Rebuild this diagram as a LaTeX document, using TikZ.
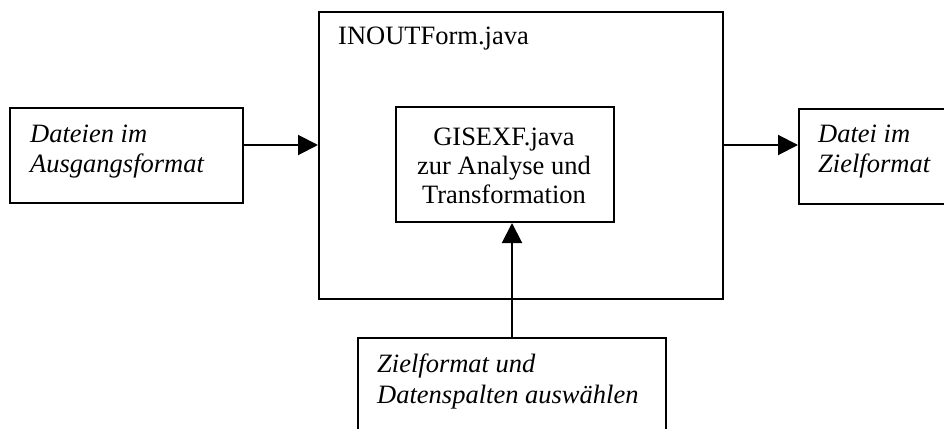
\documentclass[tikz,border=0pt]{standalone}
\usepackage{fontspec}
\setmainfont{Liberation Serif}
\usetikzlibrary{arrows.meta}
\tikzset{
  box/.style={draw, line width=2pt, inner sep=0pt},
  lbl/.style={inner sep=0pt, font=\fontsize{26.5}{30}\selectfont},
  arr/.style={line width=2pt, -{Triangle[length=20pt,width=20pt]}},
}
\begin{document}
\begin{tikzpicture}[x=1pt,y=-1pt]
  \useasboundingbox (0,0) rectangle (944,428);
  \clip (0,0) rectangle (944,428);

  % frames
  \node[box, anchor=north west, minimum width=233pt, minimum height=95pt]  (src)  at (9,107)   {};
  \node[box, anchor=north west, minimum width=404pt, minimum height=287pt] (main) at (318,11)  {};
  \node[box, anchor=north west, minimum width=218pt, minimum height=115pt] (gis)  at (395,106) {};
  \node[box, anchor=north west, minimum width=170pt, minimum height=95pt]  (dst)  at (798,108) {};
  \node[box, anchor=north west, minimum width=308pt, minimum height=120pt] (sel)  at (357,337) {};

  % texts (multi-line labels are placed by the baseline of their last line)
  \node[lbl, anchor=base west] (maint) at (338,45) {INOUTForm.java};
  \node[lbl, anchor=base west, align=left, font=\fontsize{26.5}{30}\selectfont\itshape] (srct) at (30,172)
    {Dateien im\\Ausgangsformat};
  \node[lbl, anchor=base west, align=left, font=\fontsize{26.5}{30}\selectfont\itshape] (dstt) at (818,172)
    {Datei im\\Zielformat};
  \node[lbl, anchor=base west, align=left, font=\fontsize{26.5}{31}\selectfont\itshape] (selt) at (377,403)
    {Zielformat und\\Datenspalten auswählen};
  \node[lbl, anchor=base, align=center, font=\fontsize{26.5}{29}\selectfont] (gist) at (504,203)
    {GISEXF.java\\zur Analyse und\\Transformation};

  % connectors
  \coordinate (lvl) at (0,145);
  \draw[arr] (src.east|-lvl) -- (main.west|-lvl);
  \draw[arr] (main.east|-lvl) -- (dst.west|-lvl);
  \draw[arr] (sel.north) -- (sel.north|-gis.south);
\end{tikzpicture}
\end{document}
